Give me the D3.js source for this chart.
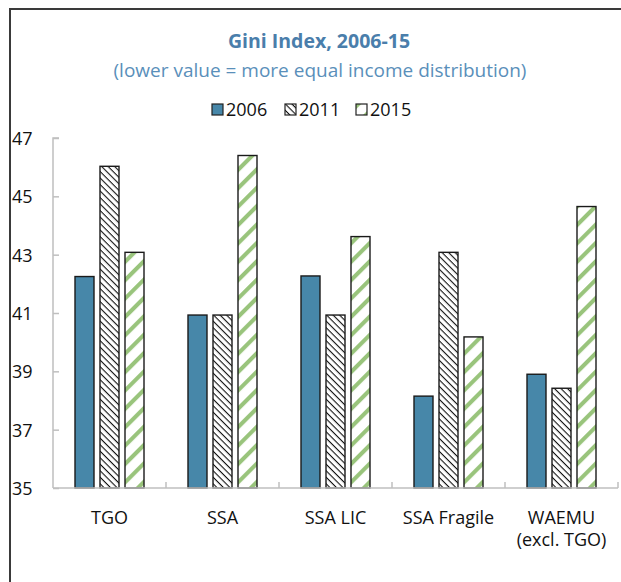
<!DOCTYPE html>
<html>
<head>
<meta charset="utf-8">
<script src="https://cdn.jsdelivr.net/npm/d3@7"></script>
<style>
  body { margin: 0; background: #fff; }
  text { font-family: "Open Sans", "Noto Sans", sans-serif; }
</style>
</head>
<body>
<div id="graph"></div>
<script>
// chart data
var categories = ["TGO", "SSA", "SSA LIC", "SSA Fragile", "WAEMU|(excl. TGO)"];
var years = ["2006", "2011", "2015"];
var v2006 = [42.25, 40.93, 42.27, 38.15, 38.9];
var v2011 = [46.03, 40.93, 40.93, 43.08, 38.42];
var v2015 = [43.08, 46.4, 43.62, 40.18, 44.65];
var yTicks = [35, 37, 39, 41, 43, 45, 47];

var width = 621, height = 582;
var margin = {top: 138, right: 3, bottom: 94, left: 53};

var svg = d3.select("#graph").append("svg")
    .attr("width", width)
    .attr("height", height);

var defs = svg.append("defs");

// black diagonal hatch for 2011
var p1 = defs.append("pattern")
    .attr("id", "hatch2011")
    .attr("patternUnits", "userSpaceOnUse")
    .attr("width", 4.6).attr("height", 4.6)
    .attr("patternTransform", "rotate(45)");
p1.append("rect").attr("width", 4.6).attr("height", 4.6).attr("fill", "#fff");
p1.append("line").attr("x1", 0).attr("y1", 0).attr("x2", 4.6).attr("y2", 0)
    .attr("stroke", "#111").attr("stroke-width", 2.2);

// green wide hatch for 2015
var p2 = defs.append("pattern")
    .attr("id", "hatch2015")
    .attr("patternUnits", "userSpaceOnUse")
    .attr("width", 13).attr("height", 13)
    .attr("patternTransform", "rotate(-45)");
p2.append("rect").attr("width", 13).attr("height", 13).attr("fill", "#fff");
p2.append("line").attr("x1", 0).attr("y1", 2).attr("x2", 13).attr("y2", 2)
    .attr("stroke", "#99c47c").attr("stroke-width", 4.2);

var fills = ["#4787a9", "url(#hatch2011)", "url(#hatch2015)"];
var series = [v2006, v2011, v2015];

// frame
svg.append("rect")
    .attr("x", 10).attr("y", 9)
    .attr("width", 640).attr("height", 620)
    .attr("fill", "none")
    .attr("stroke", "#3a3a3a")
    .attr("stroke-width", 2);

// title
svg.append("text")
    .attr("x", 319).attr("y", 48)
    .attr("text-anchor", "middle")
    .attr("font-size", 19.5).attr("font-weight", "bold")
    .attr("fill", "#4a7eab")
    .text("Gini Index, 2006-15");
svg.append("text")
    .attr("x", 320).attr("y", 77)
    .attr("text-anchor", "middle")
    .attr("font-size", 19)
    .attr("fill", "#5a8fba")
    .text("(lower value = more equal income distribution)");

// legend
var legendX = [212, 285, 356];
years.forEach(function(yr, i) {
    svg.append("rect")
        .attr("x", legendX[i]).attr("y", 104)
        .attr("width", 11).attr("height", 11)
        .attr("fill", fills[i])
        .attr("stroke", "#222").attr("stroke-width", 1.2);
    svg.append("text")
        .attr("x", legendX[i] + 14).attr("y", 116)
        .attr("font-size", 18)
        .attr("fill", "#111")
        .text(yr);
});

// scales
var x0 = d3.scaleBand()
    .domain(categories)
    .range([margin.left, width - margin.right])
    .paddingInner(0).paddingOuter(0);

var x1 = d3.scaleBand()
    .domain(years)
    .range([22, x0.bandwidth() - 22])
    .paddingInner(0.24).paddingOuter(0);

var y = d3.scaleLinear()
    .domain([35, 47])
    .range([height - margin.bottom, margin.top]);

// y axis line + ticks
var yAxis = svg.append("g")
    .attr("transform", "translate(" + margin.left + ",0)")
    .call(d3.axisRight(y).tickValues(yTicks).tickSize(6).tickFormat(""));
yAxis.selectAll("path, line").attr("stroke", "#bfbfbf").attr("stroke-width", 1.5);
yAxis.select(".domain").attr("d", "M6," + y(47) + "H0V" + y(35));

// y labels, left aligned next to the frame
svg.selectAll(".ylab")
    .data(yTicks)
    .enter().append("text")
    .attr("class", "ylab")
    .attr("x", 12)
    .attr("y", function(d) { return y(d) + 7; })
    .attr("font-size", 18)
    .attr("fill", "#111")
    .text(function(d) { return d; });

// bars
var groups = svg.selectAll(".cat")
    .data(categories)
    .enter().append("g")
    .attr("class", "cat")
    .attr("transform", function(d) { return "translate(" + x0(d) + ",0)"; });

groups.selectAll("rect")
    .data(function(d, ci) {
        return years.map(function(yr, si) { return {year: yr, value: series[si][ci], si: si}; });
    })
    .enter().append("rect")
    .attr("x", function(d) { return x1(d.year); })
    .attr("y", function(d) { return y(d.value); })
    .attr("width", x1.bandwidth())
    .attr("height", function(d) { return y(35) - y(d.value); })
    .attr("fill", function(d) { return fills[d.si]; })
    .attr("stroke", "#1a1a1a")
    .attr("stroke-width", 1.4);

// x axis
var baseY = y(35);
var xAxis = svg.append("g");
xAxis.append("line")
    .attr("x1", margin.left).attr("x2", width - margin.right)
    .attr("y1", baseY).attr("y2", baseY)
    .attr("stroke", "#bfbfbf").attr("stroke-width", 1.5);
xAxis.selectAll(".xtick")
    .data(categories)
    .enter().append("line")
    .attr("x1", function(d) { return x0(d) + x0.bandwidth(); })
    .attr("x2", function(d) { return x0(d) + x0.bandwidth(); })
    .attr("y1", baseY).attr("y2", baseY - 6)
    .attr("stroke", "#bfbfbf").attr("stroke-width", 1.5);

// category labels
var labels = svg.selectAll(".xlab")
    .data(categories)
    .enter().append("text")
    .attr("class", "xlab")
    .attr("text-anchor", "middle")
    .attr("font-size", 18)
    .attr("fill", "#111")
    .attr("x", function(d) { return x0(d) + x0.bandwidth() / 2; })
    .attr("y", baseY + 36);
labels.each(function(d) {
    var parts = d.split("|");
    var t = d3.select(this);
    parts.forEach(function(p, i) {
        t.append("tspan")
            .attr("x", x0(d) + x0.bandwidth() / 2)
            .attr("dy", i === 0 ? 0 : 22)
            .text(p);
    });
});
</script>
</body>
</html>
